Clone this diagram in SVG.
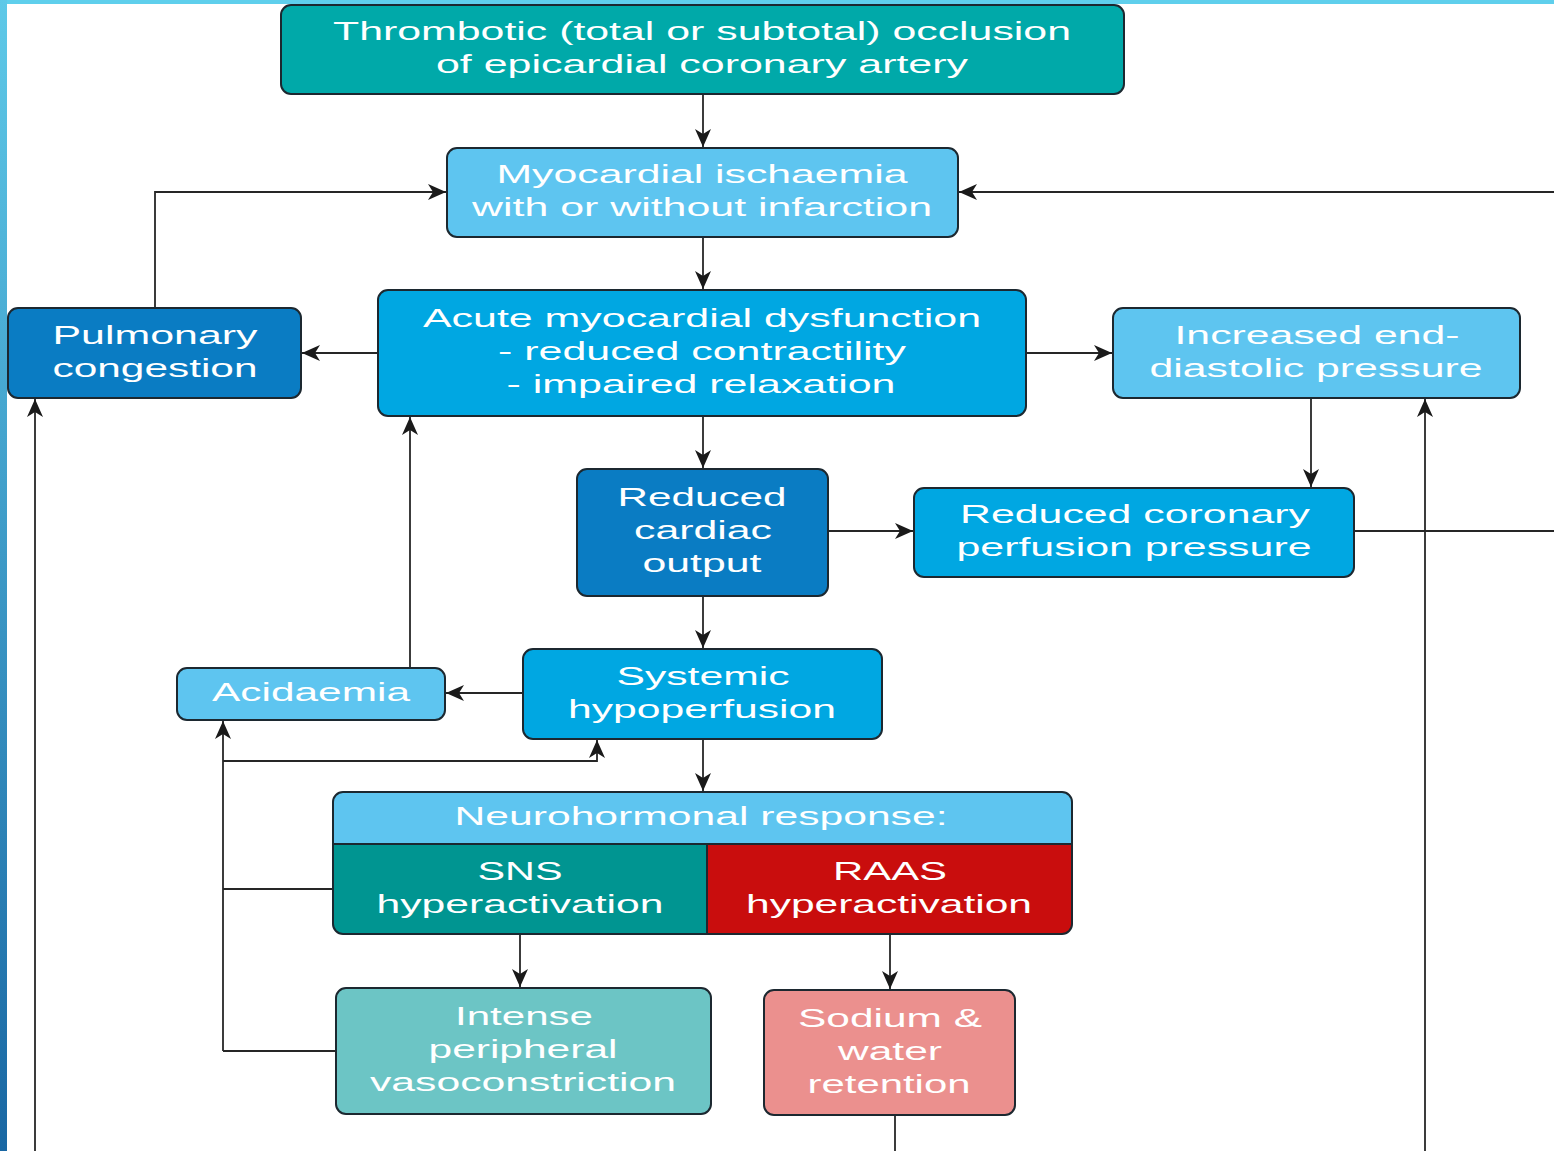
<svg xmlns="http://www.w3.org/2000/svg" width="1554" height="1151" viewBox="0 0 1554 1151">
<defs>
<linearGradient id="side" x1="0" y1="0" x2="0" y2="1">
<stop offset="0" stop-color="#5ec9e8"/>
<stop offset="1" stop-color="#1967a3"/>
</linearGradient>
<marker id="ah" markerUnits="userSpaceOnUse" markerWidth="20" markerHeight="18" refX="18" refY="8" orient="auto">
<path d="M0,0 L18,8 L0,16 L5,8 z" fill="#1a1a1a"/>
</marker>
<clipPath id="nhclip"><rect x="333" y="792" width="739" height="142" rx="10"/></clipPath>
</defs>
<style>
.box{stroke:#1c2830;stroke-width:2}
.t{font-family:"Liberation Sans",Arial,sans-serif;font-size:26px;fill:#ffffff;text-anchor:middle}
.c{fill:none;stroke:#262626;stroke-width:1.8}
.a{marker-end:url(#ah)}
</style>
<rect x="0" y="0" width="1554" height="1151" fill="#ffffff"/>
<rect x="0" y="0" width="1554" height="4" fill="#5fcfec"/>
<rect x="0" y="0" width="7" height="1151" fill="url(#side)"/>

<g id="connectors">
<path class="c a" d="M703,94 V147"/>
<path class="c a" d="M155,308 V192 H446"/>
<path class="c a" d="M1554,192 H959"/>
<path class="c a" d="M703,237 V289"/>
<path class="c a" d="M378,353 H302"/>
<path class="c a" d="M1026,353 H1112"/>
<path class="c a" d="M703,416 V468"/>
<path class="c a" d="M1311,398 V487"/>
<path class="c a" d="M828,531 H913"/>
<path class="c" d="M1354,531 H1554"/>
<path class="c a" d="M703,596 V648"/>
<path class="c a" d="M523,693 H446"/>
<path class="c a" d="M410,668 V417"/>
<path class="c a" d="M703,739 V791"/>
<path class="c" d="M336,1051 H223"/>
<path class="c a" d="M223,1051 V721"/>
<path class="c a" d="M223,761 H597 V740"/>
<path class="c" d="M223,889 H333"/>
<path class="c a" d="M520,934 V987"/>
<path class="c a" d="M890,934 V989"/>
<path class="c" d="M895,1115 V1151"/>
<path class="c a" d="M35,1151 V399"/>
<path class="c a" d="M1425,1151 V399"/>
</g>

<g id="occlusion">
<rect class="box" x="281" y="5" width="843" height="89" rx="10" fill="#00a9a9"/>
<text class="t" x="702" y="40" textLength="738" lengthAdjust="spacingAndGlyphs">Thrombotic (total or subtotal) occlusion</text>
<text class="t" x="702" y="73" textLength="532" lengthAdjust="spacingAndGlyphs">of epicardial coronary artery</text>
</g>

<g id="ischaemia">
<rect class="box" x="447" y="148" width="511" height="89" rx="10" fill="#5ec5f0"/>
<text class="t" x="702" y="183" textLength="411" lengthAdjust="spacingAndGlyphs">Myocardial ischaemia</text>
<text class="t" x="702" y="216" textLength="460" lengthAdjust="spacingAndGlyphs">with or without infarction</text>
</g>

<g id="dysfunction">
<rect class="box" x="378" y="290" width="648" height="126" rx="10" fill="#00a7e2"/>
<text class="t" x="702" y="327" textLength="558" lengthAdjust="spacingAndGlyphs">Acute myocardial dysfunction</text>
<text class="t" x="702" y="360" textLength="408" lengthAdjust="spacingAndGlyphs">- reduced contractility</text>
<text class="t" x="701" y="393" textLength="389" lengthAdjust="spacingAndGlyphs">- impaired relaxation</text>
</g>

<g id="pulmonary">
<rect class="box" x="8" y="308" width="293" height="90" rx="10" fill="#0a7cc3"/>
<text class="t" x="155" y="344" textLength="205" lengthAdjust="spacingAndGlyphs">Pulmonary</text>
<text class="t" x="155" y="377" textLength="205" lengthAdjust="spacingAndGlyphs">congestion</text>
</g>

<g id="edp">
<rect class="box" x="1113" y="308" width="407" height="90" rx="10" fill="#5ec5f0"/>
<text class="t" x="1317" y="344" textLength="285" lengthAdjust="spacingAndGlyphs">Increased end-</text>
<text class="t" x="1316" y="377" textLength="333" lengthAdjust="spacingAndGlyphs">diastolic pressure</text>
</g>

<g id="cardiac-output">
<rect class="box" x="577" y="469" width="251" height="127" rx="10" fill="#0a7cc3"/>
<text class="t" x="702" y="506" textLength="169" lengthAdjust="spacingAndGlyphs">Reduced</text>
<text class="t" x="703" y="539" textLength="138" lengthAdjust="spacingAndGlyphs">cardiac</text>
<text class="t" x="702" y="572" textLength="119" lengthAdjust="spacingAndGlyphs">output</text>
</g>

<g id="coronary-perfusion">
<rect class="box" x="914" y="488" width="440" height="89" rx="10" fill="#00a7e2"/>
<text class="t" x="1135" y="523" textLength="350" lengthAdjust="spacingAndGlyphs">Reduced coronary</text>
<text class="t" x="1134" y="556" textLength="355" lengthAdjust="spacingAndGlyphs">perfusion pressure</text>
</g>

<g id="hypoperfusion">
<rect class="box" x="523" y="649" width="359" height="90" rx="10" fill="#00a7e2"/>
<text class="t" x="703" y="685" textLength="173" lengthAdjust="spacingAndGlyphs">Systemic</text>
<text class="t" x="702" y="718" textLength="268" lengthAdjust="spacingAndGlyphs">hypoperfusion</text>
</g>

<g id="acidaemia">
<rect class="box" x="177" y="668" width="268" height="52" rx="10" fill="#5ec5f0"/>
<text class="t" x="311" y="701" textLength="198" lengthAdjust="spacingAndGlyphs">Acidaemia</text>
</g>

<g id="neurohormonal">
<g clip-path="url(#nhclip)">
<rect x="333" y="792" width="739" height="52" fill="#5ec5f0"/>
<rect x="333" y="844" width="374" height="90" fill="#009591"/>
<rect x="707" y="844" width="365" height="90" fill="#c90d0d"/>
</g>
<path d="M333,844 H1072 M707,844 V934" stroke="#1c2830" stroke-width="2" fill="none"/>
<rect x="333" y="792" width="739" height="142" rx="10" fill="none" stroke="#1c2830" stroke-width="2"/>
<text class="t" x="701" y="825" textLength="493" lengthAdjust="spacingAndGlyphs">Neurohormonal response:</text>
<text class="t" x="520" y="880" textLength="85" lengthAdjust="spacingAndGlyphs">SNS</text>
<text class="t" x="520" y="913" textLength="287" lengthAdjust="spacingAndGlyphs">hyperactivation</text>
<text class="t" x="890" y="880" textLength="114" lengthAdjust="spacingAndGlyphs">RAAS</text>
<text class="t" x="889" y="913" textLength="286" lengthAdjust="spacingAndGlyphs">hyperactivation</text>
</g>

<g id="vasoconstriction">
<rect class="box" x="336" y="988" width="375" height="126" rx="10" fill="#6cc5c5"/>
<text class="t" x="524" y="1025" textLength="138" lengthAdjust="spacingAndGlyphs">Intense</text>
<text class="t" x="523" y="1058" textLength="189" lengthAdjust="spacingAndGlyphs">peripheral</text>
<text class="t" x="523" y="1091" textLength="306" lengthAdjust="spacingAndGlyphs">vasoconstriction</text>
</g>

<g id="sodium">
<rect class="box" x="764" y="990" width="251" height="125" rx="10" fill="#eb908e"/>
<text class="t" x="890" y="1027" textLength="184" lengthAdjust="spacingAndGlyphs">Sodium &amp;</text>
<text class="t" x="890" y="1060" textLength="104" lengthAdjust="spacingAndGlyphs">water</text>
<text class="t" x="889" y="1093" textLength="163" lengthAdjust="spacingAndGlyphs">retention</text>
</g>
</svg>
